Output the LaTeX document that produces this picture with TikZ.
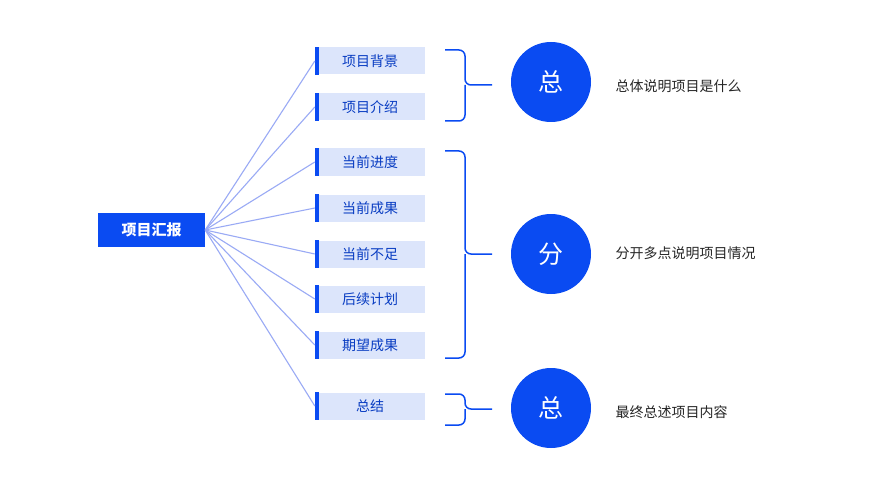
\documentclass[tikz,border=0pt]{standalone}
\usepackage{fontspec}
\setmainfont{Noto Sans CJK SC}
\definecolor{mainblue}{HTML}{0A4BF2}
\definecolor{lightbox}{HTML}{DCE5FB}
\definecolor{linec}{HTML}{9AAAF5}
\begin{document}
\begin{tikzpicture}[x=1pt,y=-1pt,
 item/.style={fill=lightbox,minimum width=110pt,minimum height=27pt,inner sep=0pt,font=\fontsize{14}{16}\selectfont,text=mainblue!80!black},
 circ/.style={circle,fill=mainblue,minimum size=80pt,inner sep=0pt,text=white,font=\fontsize{25}{28}\selectfont},
 desc/.style={anchor=west,font=\fontsize{14}{16}\selectfont,text=black!85},
 conn/.style={linec,line width=1.1pt},
 brace/.style={mainblue,line width=1.5pt,rounded corners=6pt}]
\useasboundingbox[fill=white] (0,0) rectangle (889,500);
\node[fill=mainblue,minimum width=107pt,minimum height=34pt,inner sep=0pt,text=white,font=\fontsize{15}{17}\selectfont\bfseries] (root) at (151.5,230) {项目汇报};
\foreach \n/\y/\t in {a/61/项目背景,b/107/项目介绍,c/162/当前进度,d/208/当前成果,e/254/当前不足,f/299/后续计划,g/345/期望成果,h/406/总结}{
 \node[item] (\n) at (370,\y) {\t};
 \fill[mainblue] (\n.north west) rectangle ([xshift=4pt]\n.south west);
 \draw[conn] (root.east) -- (\n.west);
}
\foreach \t/\b/\m in {50/121/85, 151/358/254, 394/425/409}{
 \draw[brace] (445,\t) -- (465,\t) -- (465,\m) -- (492,\m);
 \draw[brace] (445,\b) -- (465,\b) -- (465,\m);
}
\node[circ] (c1) at (551,82) {总};
\node[circ] (c2) at (551,254) {分};
\node[circ] (c3) at (551,408) {总};
\node[desc] (d1) at (612,86) {总体说明项目是什么};
\node[desc] (d2) at (612,253) {分开多点说明项目情况};
\node[desc] (d3) at (612,412) {最终总述项目内容};
\end{tikzpicture}
\end{document}
